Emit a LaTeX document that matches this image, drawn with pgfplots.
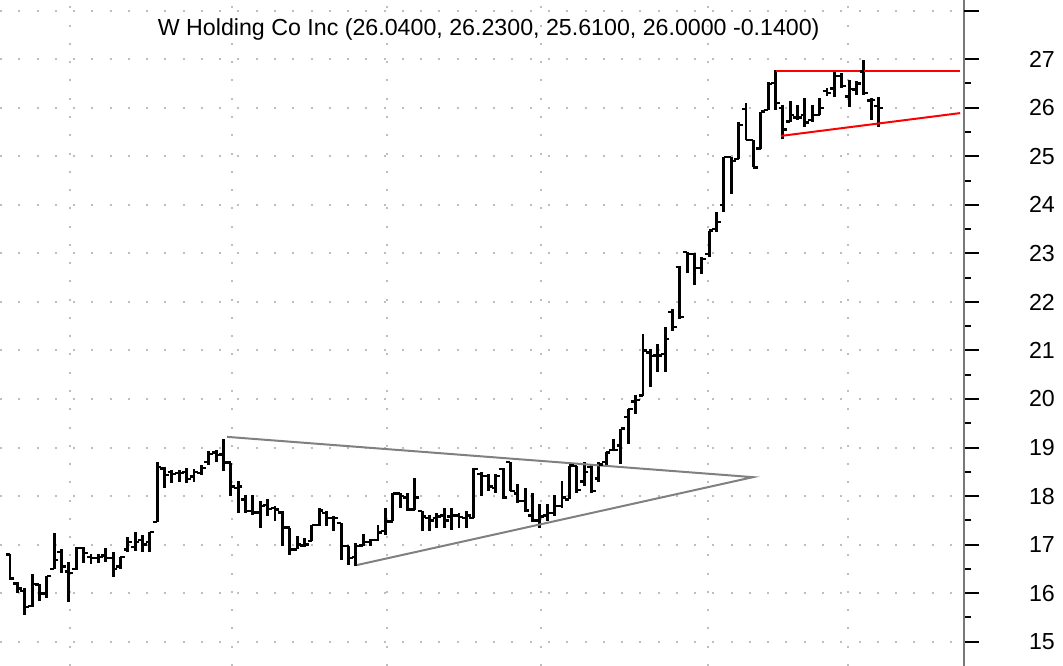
\documentclass[border=0pt]{standalone}
\usepackage{pgfplots}
\usepackage{pgfplotstable}
\pgfplotsset{compat=1.18}
\usepackage{fontspec}
\setmainfont{Liberation Sans}
\definecolor{gridgray}{RGB}{190,190,190}
\definecolor{trendgray}{RGB}{128,128,128}
\definecolor{axgray}{RGB}{120,120,120}
\pgfdeclareplotmark{otick}{\pgfsetlinewidth{1.8pt}\pgfpathmoveto{\pgfqpoint{-3.2pt}{0pt}}\pgfpathlineto{\pgfqpoint{0pt}{0pt}}\pgfusepathqstroke}
\pgfdeclareplotmark{ctick}{\pgfsetlinewidth{1.8pt}\pgfpathmoveto{\pgfqpoint{3.2pt}{0pt}}\pgfpathlineto{\pgfqpoint{0pt}{0pt}}\pgfusepathqstroke}
\pgfplotstableread{
i o h l c
1 16.80 16.81 16.28 16.30
2 16.20 16.23 16.01 16.10
3 16.05 16.10 15.55 15.72
4 15.73 16.40 15.71 16.19
5 16.18 16.19 15.83 15.99
6 15.99 16.35 15.90 16.35
7 16.50 17.25 16.49 16.68
8 16.85 16.92 16.42 16.55
9 16.45 16.64 15.81 16.42
10 16.50 16.95 16.47 16.93
11 16.93 16.95 16.63 16.83
12 16.75 16.81 16.60 16.73
13 16.73 16.81 16.62 16.75
14 16.78 16.93 16.65 16.72
15 16.73 16.85 16.33 16.50
16 16.55 16.75 16.50 16.75
17 16.90 17.16 16.85 17.05
18 16.95 17.26 16.86 17.05
19 17.10 17.19 16.85 17.00
20 17.05 17.26 16.85 17.26
21 17.47 18.71 17.47 18.60
22 18.57 18.60 18.16 18.43
23 18.50 18.54 18.26 18.45
24 18.48 18.54 18.30 18.47
25 18.50 18.57 18.26 18.35
26 18.40 18.55 18.30 18.50
27 18.48 18.64 18.44 18.58
28 18.70 18.92 18.64 18.87
29 18.90 18.95 18.70 18.85
30 18.86 19.17 18.52 18.69
31 18.69 18.69 18.00 18.20
32 18.17 18.31 17.66 18.20
33 17.93 18.03 17.66 17.69
34 17.69 18.03 17.62 17.66
35 17.66 17.90 17.35 17.80
36 17.82 17.93 17.59 17.73
37 17.75 17.80 17.48 17.72
38 17.66 17.69 16.97 17.35
39 17.35 17.35 16.79 16.90
40 16.90 17.17 16.90 17.00
41 16.98 17.14 16.95 17.00
42 17.07 17.41 17.07 17.40
43 17.40 17.76 17.38 17.70
44 17.65 17.69 17.38 17.55
45 17.55 17.60 17.28 17.55
46 17.45 17.45 16.69 16.97
47 16.97 16.97 16.59 16.72
48 16.75 17.03 16.55 16.97
49 16.98 17.21 16.97 17.05
50 17.05 17.12 16.98 17.10
51 17.10 17.41 17.08 17.25
52 17.28 17.76 17.20 17.48
53 17.48 18.07 17.48 18.05
54 18.05 18.07 17.76 18.00
55 17.97 18.07 17.69 17.72
56 17.72 18.38 17.72 17.97
57 17.69 17.69 17.28 17.58
58 17.55 17.62 17.28 17.50
59 17.55 17.65 17.34 17.58
60 17.60 17.75 17.35 17.50
61 17.58 17.76 17.30 17.60
62 17.60 17.65 17.34 17.57
63 17.55 17.69 17.34 17.60
64 17.55 18.58 17.55 18.56
65 18.45 18.49 18.00 18.42
66 18.42 18.45 18.10 18.20
67 18.17 18.45 18.07 18.42
68 18.56 18.58 17.95 17.97
69 18.70 18.70 18.10 18.10
70 18.05 18.25 17.86 17.90
71 17.90 18.17 17.69 17.70
72 17.60 18.07 17.47 17.50
73 17.50 17.83 17.34 17.58
74 17.60 17.83 17.48 17.65
75 17.65 18.03 17.58 17.80
76 17.80 18.31 17.76 17.97
77 17.93 18.63 17.93 18.63
78 18.62 18.63 18.07 18.13
79 18.30 18.70 18.20 18.50
80 18.60 18.66 18.07 18.10
81 18.36 18.70 18.30 18.65
82 18.70 18.90 18.62 18.90
83 18.95 19.18 18.93 18.95
84 19.04 19.39 18.66 19.39
85 19.63 19.80 19.08 19.80
86 19.95 20.08 19.70 19.98
87 20.07 21.34 20.07 21.00
88 20.96 21.03 20.24 20.89
89 20.90 21.13 20.55 20.90
90 20.93 21.48 20.55 21.24
91 21.79 21.86 21.41 21.48
92 22.72 22.75 21.65 21.69
93 23.03 23.03 22.60 22.99
94 22.99 23.00 22.34 22.70
95 22.70 22.93 22.58 22.88
96 22.99 23.47 22.92 23.47
97 23.50 23.85 23.44 23.65
98 24.00 24.98 23.85 24.98
99 24.98 24.98 24.23 24.90
100 24.95 25.71 24.95 25.64
101 25.97 26.09 25.33 25.33
102 25.33 25.33 24.77 24.77
103 25.16 25.92 25.16 25.92
104 25.95 26.54 25.95 26.49
105 26.51 26.77 25.95 26.10
106 26.00 26.05 25.36 25.55
107 25.72 26.13 25.71 25.85
108 25.80 26.06 25.75 25.80
109 25.85 26.20 25.60 25.70
110 25.75 26.06 25.71 25.85
111 25.85 26.20 25.85 26.00
112 26.35 26.40 26.25 26.30
113 26.40 26.74 26.23 26.66
114 26.66 26.72 26.40 26.45
115 26.23 26.58 26.02 26.39
116 26.38 26.55 26.27 26.50
117 26.75 26.98 26.27 26.30
118 26.15 26.20 25.75 26.16
119 26.04 26.23 25.61 26.00
}\ohlc
\begin{document}
\begin{tikzpicture}
\begin{axis}[
  at={(0,0)}, anchor=south west,
  scale only axis, width=723pt, height=499.5pt,
  xmin=-0.36, xmax=130.62, ymin=14.50, ymax=28.22,
  axis y line*=right, axis x line*=bottom,
  x axis line style={draw=none},
  y axis line style={draw=axgray, line width=0.8pt},
  xtick={9.15,31.15,52.2,73.1,95.8,114.9}, xticklabels={},
  xtick style={draw=none},
  ytick={15,...,27}, extra y ticks={28}, extra y tick labels={},
  minor y tick num=1,
  tick align=outside,
  major tick length=11.25pt, minor tick length=5.25pt,
  ytick style={black, line width=1.5pt},
  extra y tick style={grid=major},
  grid=major,
  grid style={gridgray, line width=1.5pt, dash pattern=on 1.5pt off 12.2pt},
  /pgf/number format/assume math mode=true,
  yticklabel style={font=\fontsize{17.4}{20}\selectfont, anchor=west, xshift=34pt},
  clip=false,
]
\addplot[draw=none, mark=none, forget plot,
  error bars/.cd, y dir=both, y explicit, error mark=none,
  error bar style={draw=black, solid, line width=2.2pt}]
  table[x=i, y=c, y error plus expr=\thisrow{h}-\thisrow{c}, y error minus expr=\thisrow{c}-\thisrow{l}] {\ohlc};
\addplot[only marks, mark=otick, mark options={draw=black}] table[x=i, y=o] {\ohlc};
\addplot[only marks, mark=ctick, mark options={draw=black}] table[x=i, y=c] {\ohlc};
\addplot[trendgray, line width=1.5pt, mark=none] coordinates {(30.5,19.22) (101.95,18.39) (48.15,16.58)};
\addplot[red, line width=1.5pt, mark=none] coordinates {(105.1,26.76) (130.1,26.76)};
\addplot[red, line width=1.5pt, mark=none] coordinates {(105.75,25.42) (130.1,25.89)};
\node[font=\fontsize{17.4}{20}\selectfont, anchor=center] at (rel axis cs:0.507,0.955) {W Holding Co Inc (26.0400, 26.2300, 25.6100, 26.0000 -0.1400)};
\end{axis}
\pgfresetboundingbox
\path[use as bounding box] (0,0) rectangle (797.25pt,499.5pt);
\end{tikzpicture}
\end{document}
